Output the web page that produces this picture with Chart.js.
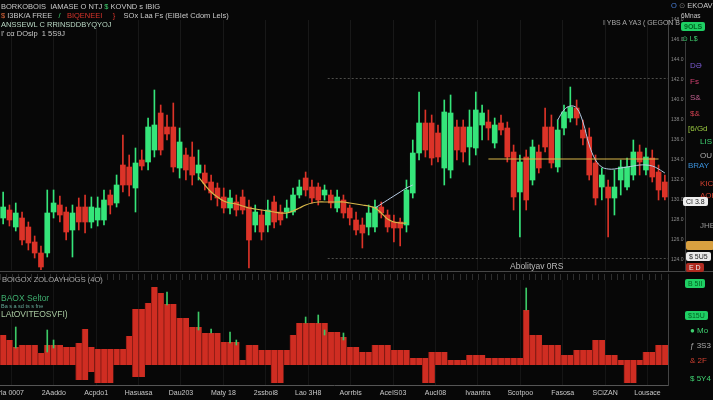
<!DOCTYPE html>
<html><head><meta charset="utf-8">
<script src="https://cdn.jsdelivr.net/npm/chart.js@4"></script>
<style>
html,body{margin:0;padding:0;background:#070707;width:713px;height:400px;overflow:hidden;font-family:"Liberation Sans","DejaVu Sans",sans-serif;}
#wrap{position:relative;width:713px;height:400px;}
canvas{position:absolute;left:0}
#c1{top:0}
#c2{top:272px}
.t{position:absolute;white-space:nowrap;font-size:7.5px;color:#c9c9c9;line-height:1}
.hl{position:absolute;background:#474747;height:1px}
.vl{position:absolute;background:#3a3a3a;width:1px}
.box{position:absolute;font-size:7px;line-height:1;padding:1px 3px;border-radius:2px;white-space:nowrap}
</style></head>
<body><div id="wrap">
<canvas id="c1" width="713" height="272"></canvas>
<canvas id="c2" width="713" height="128"></canvas>

<div class="hl" style="left:0;top:271px;width:713px"></div>
<div class="vl" style="left:685px;top:42px;height:230px"></div>

<div class="t" style="left:1px;top:3px">BORKOBOIS &nbsp;IAMASE O NTJ <span style="color:#3fd070">$</span> KOVND s IBIG</div>
<div class="t" style="left:1px;top:12px"><span style="color:#e0663a">$</span> I3BK/A FREE &nbsp;&nbsp;<span style="color:#3fd070">/</span> &nbsp;&nbsp;<span style="color:#d8342b">BIQENEEI</span> &nbsp;&nbsp;&nbsp;&nbsp;<span style="color:#d8342b">}</span> &nbsp;&nbsp;&nbsp;SOx Laa Fs (EIBIet Cdom Lels)</div>
<div class="t" style="left:1px;top:21px;color:#b9d8c4">ANSSEWL C RRINSDDBYQYOJ</div>
<div class="t" style="left:1px;top:30px">I' cα DOslp &nbsp;1 5S9J</div>

<div class="t" style="left:603px;top:19px;font-size:7px;color:#aaa">I YBS A YA3 ( GEGON B</div>
<div class="t" style="left:671px;top:2px;font-size:7.5px"><span style="color:#4a7fd8">O</span> <span style="color:#777">⊙</span> EKOAV</div>
<div class="t" style="left:681px;top:13px;font-size:6.5px">6Mnas</div>
<div class="box" style="left:681px;top:22px;background:#1fcf64;color:#062;font-weight:bold">9OLS</div>
<div class="t" style="left:682px;top:35px;font-size:7px;color:#3fd070">⊙ L$</div>

<div class="t" style="left:690px;top:62px;font-size:8px;color:#7a5ad0">DƏ</div>
<div class="t" style="left:690px;top:78px;font-size:8px;color:#d04070">Fs</div>
<div class="t" style="left:690px;top:94px;font-size:8px;color:#c06090">S&amp;</div>
<div class="t" style="left:690px;top:110px;font-size:8px;color:#d04050">$&amp;</div>
<div class="t" style="left:688px;top:125px;font-size:8px;color:#9ac840">[6/Gd</div>
<div class="t" style="left:700px;top:138px;font-size:8px;color:#3fd070">LIS</div>
<div class="t" style="left:700px;top:152px;font-size:8px;color:#aaa">OU</div>
<div class="t" style="left:688px;top:162px;font-size:8px;color:#3a8fd8">BRAY</div>
<div class="t" style="left:700px;top:180px;font-size:8px;color:#d04030">KICL</div>
<div class="t" style="left:700px;top:192px;font-size:8px;color:#d04030">AOHA</div>
<div class="t" style="left:700px;top:222px;font-size:8px;color:#999">JHEB</div>
<div class="box" style="left:686px;top:241px;background:#d8a040;color:#222;width:22px">&nbsp;</div>
<div class="box" style="left:686px;top:252px;background:#e8e8e8;color:#222">$ 5U5</div>
<div class="box" style="left:686px;top:263px;background:#b02a20;color:#eee">E D</div>
<div class="box" style="left:683px;top:197px;background:#eee;color:#222;font-size:7px">CI 3.8</div>

<div class="box" style="left:685px;top:279px;background:#1fcf64;color:#062">B 5II</div>
<div class="box" style="left:685px;top:311px;background:#1fcf64;color:#062">$15U</div>
<div class="t" style="left:690px;top:327px;font-size:8px;color:#3fd070">● Mo</div>
<div class="t" style="left:690px;top:342px;font-size:8px;color:#aaa">ƒ 3S3</div>
<div class="t" style="left:690px;top:357px;font-size:8px;color:#d04030">&amp; 2F</div>
<div class="t" style="left:690px;top:375px;font-size:8px;color:#3fd070">$ 5Y4</div>

<div class="t" style="left:2px;top:276px;font-size:7.5px;color:#aaa">BOIGOX ZOLOAYHOGS (4O)</div>
<div class="t" style="left:1px;top:294px;font-size:8.5px;color:#3fb070">BAOX Seltor</div>
<div class="t" style="left:1px;top:304px;font-size:5.5px;color:#6a9">Ba s a sd ts s fne</div>
<div class="t" style="left:1px;top:310px;font-size:8.5px;color:#a8c8a0">LAtOVITEOSVFI)</div>
<div class="t" style="left:510px;top:262px;font-size:8.5px;color:#bbb">Abolityav 0RS</div>
</div>
<script>
// ---- price series (OHLC) ----
const open  = [128.2,129.0,127.3,128.2,127.3,125.8,124.7,124.7,128.8,129.5,128.8,127.0,129.3,129.3,127.8,128.0,128.0,130.5,129.7,133.5,133.3,131.2,134.0,133.8,135.0,138.7,137.3,137.3,133.2,134.5,134.3,132.7,132.7,131.8,131.2,130.3,129.2,129.8,130.3,129.3,127.5,128.5,127.5,129.8,128.8,128.8,128.8,130.5,132.2,131.3,131.3,130.5,130.5,129.2,130.0,129.2,128.0,127.5,127.3,127.3,129.3,128.5,127.8,127.8,127.5,130.7,134.7,137.7,137.7,136.7,133.2,133.0,137.3,137.3,135.3,135.2,137.5,137.8,135.7,137.7,137.2,134.8,130.8,134.3,132.0,134.8,137.3,137.3,133.3,137.2,138.2,139.2,137.0,136.3,133.7,131.3,131.3,130.2,132.0,131.3,132.5,134.8,133.0,134.2,132.8,131.8];
const high  = [130.8,129.5,129.7,128.8,127.8,126.4,125.4,131.0,131.0,130.4,129.3,129.5,130.2,130.5,130.3,130.3,131.0,131.0,132.5,136.5,134.5,135.2,135.0,138.2,141.0,139.5,138.5,139.7,137.2,135.2,135.8,135.0,133.5,132.5,131.7,131.2,131.0,130.5,131.0,130.0,129.5,129.0,130.0,130.4,129.5,130.0,131.2,132.0,132.8,132.0,131.7,131.5,131.0,131.0,130.5,129.5,128.8,128.2,129.5,130.0,129.8,129.0,128.5,128.2,132.0,136.0,140.8,139.0,138.5,137.5,140.0,140.5,138.0,138.0,139.0,140.8,139.5,139.0,138.2,138.5,137.8,135.5,134.5,135.0,136.0,135.5,139.2,138.5,138.0,139.5,141.3,140.0,138.0,137.2,134.5,133.2,132.0,133.0,134.0,134.2,136.0,135.5,135.2,135.0,133.5,132.5];
const low   = [127.6,127.4,126.9,125.5,125.0,124.2,122.8,124.3,128.2,127.8,126.0,124.3,127.0,126.7,127.2,127.4,127.5,128.6,129.3,130.8,130.4,128.8,133.0,133.0,134.3,134.5,136.0,132.8,132.2,132.0,131.5,132.0,131.0,130.0,129.4,128.7,128.6,128.4,128.6,123.2,126.8,126.0,126.8,127.2,127.5,128.2,128.5,130.2,130.4,129.7,129.5,130.0,129.2,128.8,128.2,127.5,126.5,125.2,126.5,126.8,128.2,126.8,125.8,125.4,126.8,130.2,134.0,134.3,133.5,133.8,131.5,132.2,134.0,133.8,133.5,134.5,136.0,136.0,135.2,136.5,133.8,129.0,126.3,129.0,131.5,132.7,134.8,133.2,132.8,136.5,137.8,137.5,135.5,132.0,129.5,130.0,126.3,128.5,130.5,131.0,132.0,132.5,132.5,131.8,130.0,130.0];
const close = [129.3,128.0,128.7,126.0,125.7,124.7,123.3,128.7,129.7,128.5,126.8,128.7,127.8,127.8,129.3,129.2,130.0,129.5,131.5,131.5,131.5,133.7,133.4,137.3,137.5,135.0,136.6,133.3,135.8,133.0,132.5,133.5,131.7,130.7,130.2,129.2,130.2,129.0,129.0,126.0,128.8,126.8,129.0,127.8,128.0,129.2,130.5,131.3,131.0,130.2,130.0,131.0,129.7,130.3,128.7,128.2,127.0,126.7,128.7,129.3,128.7,127.3,127.2,127.2,131.0,134.7,137.7,135.0,134.2,134.3,138.8,138.7,135.0,134.8,137.3,139.0,138.7,137.2,137.5,137.0,134.3,130.3,133.8,130.0,135.3,133.2,135.3,133.7,137.0,138.8,139.3,138.2,136.2,132.5,130.2,132.5,130.2,131.3,133.3,133.3,134.8,133.8,134.3,132.3,131.0,130.3];
// moving averages (null = not drawn)
const maYellow = [null,null,null,null,null,null,null,null,null,null,null,null,null,null,null,null,null,null,null,null,null,null,null,null,null,null,null,null,null,null,null,132.3,131.5,130.8,130.3,129.9,129.7,129.6,129.4,129.2,129.1,129.0,128.9,128.8,128.7,128.7,128.9,129.2,129.5,129.7,129.8,129.8,129.8,129.8,129.8,129.7,129.6,129.5,129.4,129.2,128.7,128.1,127.8,127.7,127.7,null,null,null,null,null,null,null,null,null,null,null,null,134.1,134.1,134.1,134.1,134.1,134.1,134.1,134.1,134.1,134.1,134.1,134.1,134.1,134.1,134.1,134.1,134.1,134.1,134.1,134.1,134.1,134.1,134.1,134.1,134.1,134.1,134.1,134.1];
const maWhite  = [null,null,null,null,null,null,null,null,null,null,null,null,null,null,null,null,null,null,null,null,null,null,null,null,null,null,null,null,null,null,null,null,null,null,null,null,null,null,null,null,null,null,null,null,null,null,null,null,null,null,null,null,null,null,null,null,null,null,null,129.2,129.6,130.0,130.4,130.8,131.2,131.5,null,null,null,null,null,null,null,null,null,null,null,null,null,null,null,null,null,null,null,null,null,null,138.0,139.0,139.4,139.2,137.8,135.5,134.0,133.3,133.1,133.1,133.2,133.3,133.4,133.5,133.5,133.4,133.1,132.7];
// ---- lower pane: volume histogram (floating) ----
const volHigh = [50,45,38,40,40,40,32,40,40,40,38,38,42,56,38,36,36,36,36,36,49,76,76,82,98,92,81,81,67,67,58,58,52,52,52,43,43,43,25,40,40,35,35,35,35,35,50,62,62,62,62,62,53,53,48,38,38,33,33,40,40,40,35,35,35,27,27,27,33,33,33,25,25,25,30,30,30,27,27,27,27,27,27,75,50,50,40,40,40,30,30,35,35,35,45,45,30,30,25,25,25,25,33,33,40,40];
const volLow  = [20,20,20,20,20,20,20,20,20,20,20,20,5,5,13,2,2,2,20,20,20,8,8,20,20,20,20,20,20,20,20,20,20,20,20,20,20,20,20,20,20,20,20,2,2,20,20,20,20,20,20,20,20,20,20,20,20,20,20,20,20,20,20,20,20,20,20,2,2,20,20,20,20,20,20,20,20,20,20,20,20,20,20,20,20,20,20,20,20,20,20,20,20,20,20,20,20,20,20,2,2,20,20,20,20,20];
const sigLow  = {2:37,7:33,8:37,26:80,31:55,33:52,36:42,37:40,48:62,50:62,51:50,54:45,83:75};
const sigHigh = {2:58,7:55,8:45,26:93,31:73,33:56,36:53,37:45,48:68,50:70,51:55,54:52,83:97};
// ---- axis labels ----
const categories = open.map((_, i) => 'B' + (i + 1));
const xTickLabels = ['rla 0007','2Aaddo','Acpdo1','Hasuasa','Dau203','Maty 18','2ssboi8','Lao 3H8','Aorrbis','AceIS03','Aucl08','Ivaantra','Scotpoo','Fasosa','SCiZAN','Lousace'];
const refLevels = [{value:142.2, from:51.5}, {value:124.2, from:51.5}];

const GREEN = '#35e57a', RED = '#dc3328';
const candleColors = open.map((o, i) => close[i] >= o ? GREEN : RED);
const bodies = open.map((o, i) => [o, close[i]]);
const wicks = low.map((l, i) => [l, high[i]]);
const vol = volLow.map((l, i) => [l, volHigh[i]]);
const volSig = categories.map((_, i) => sigLow[i] !== undefined ? [sigLow[i], sigHigh[i]] : null);

const tickStep = 6.73, firstTick = 1.3;
const labelTicks = () => xTickLabels.map((_, k) => ({value: firstTick + k * tickStep}));
const noPad = s => { s.paddingLeft = 0; s.paddingRight = 0; s.paddingTop = 0; s.paddingBottom = 0; };

const refLinePlugin = {
  id: 'refLines',
  beforeDatasetsDraw(chart) {
    const {ctx, chartArea, scales} = chart;
    ctx.save();
    ctx.setLineDash([2, 2]);
    ctx.strokeStyle = 'rgba(210,210,200,0.35)';
    ctx.lineWidth = 1;
    refLevels.forEach(r => {
      const py = Math.round(scales.y.getPixelForValue(r.value)) + 0.5;
      ctx.beginPath();
      ctx.moveTo(scales.xl.getPixelForValue(r.from), py);
      ctx.lineTo(chartArea.right, py);
      ctx.stroke();
    });
    ctx.restore();
  }
};

Chart.defaults.font.family = '"Liberation Sans","DejaVu Sans",sans-serif';

new Chart(document.getElementById('c1'), {
  type: 'bar',
  data: {
    labels: categories,
    datasets: [
      {type:'line', label:'MA A', data: maYellow, borderColor:'#d9b84a', borderWidth:1.2, pointRadius:0, tension:0.4, order:0},
      {type:'line', label:'MA B', data: maWhite, borderColor:'#b8cde6', borderWidth:1, pointRadius:0, tension:0.4, order:0},
      {label:'body', data: bodies, backgroundColor: candleColors, barThickness:5, grouped:false, minBarLength:1, order:1},
      {label:'wick', data: wicks, backgroundColor: candleColors, barThickness:1, grouped:false, order:2}
    ]
  },
  options: {
    responsive:false, animation:false, devicePixelRatio:1,
    layout:{padding:{top:20, bottom:2, left:0, right:0}},
    plugins:{legend:{display:false}, tooltip:{enabled:false}},
    scales:{
      x:{display:false, offset:true},
      xl:{type:'linear', position:'bottom', min:-0.5, max:105.5, offset:false,
          afterBuildTicks:s=>{s.ticks = labelTicks();},
          ticks:{display:false}, grid:{color:'rgba(255,255,255,0.07)', drawTicks:false, offset:false}, border:{display:false},
          afterFit:s=>{s.height = 0; noPad(s);}},
      y:{position:'right', min:123, max:148,
         afterBuildTicks:s=>{s.ticks = s.ticks.filter(t => t.value % 2 === 0);},
         ticks:{stepSize:2, font:{size:5}, color:'#8a8a8a', padding:3, callback:v=>v.toFixed(1)},
         grid:{display:false, drawTicks:false}, border:{color:'#444'},
         afterFit:s=>{s.width = 45; noPad(s);}}
    }
  },
  plugins:[refLinePlugin]
});

new Chart(document.getElementById('c2'), {
  type: 'bar',
  data: {
    labels: categories,
    datasets: [
      {label:'signal', data: volSig, backgroundColor:'#3cc866', barThickness:1, grouped:false, order:0},
      {label:'volume', data: vol, backgroundColor:'#cf2d22', borderColor:'#8e1c15', borderWidth:{left:1, right:0, top:0, bottom:0}, borderSkipped:false, barPercentage:1, categoryPercentage:1, grouped:false, order:1}
    ]
  },
  options: {
    responsive:false, animation:false, devicePixelRatio:1,
    layout:{padding:{top:2, bottom:0, left:0, right:0}},
    plugins:{legend:{display:false}, tooltip:{enabled:false}},
    scales:{
      x:{position:'top', offset:true, ticks:{display:false},
         grid:{drawOnChartArea:false, drawTicks:true, tickLength:6, color:'#2e2e2e'}, border:{display:false},
         afterFit:s=>{s.height = 6; noPad(s);}},
      xl:{type:'linear', position:'bottom', min:-0.5, max:105.5, offset:false,
          afterBuildTicks:s=>{s.ticks = labelTicks();},
          ticks:{callback:(v, i)=>xTickLabels[i], font:{size:7}, color:'#c8c8c8', padding:4, maxRotation:0, autoSkip:false},
          grid:{color:'rgba(255,255,255,0.06)', drawTicks:false, offset:false}, border:{color:'#555'},
          afterFit:s=>{s.height = 15; noPad(s);}},
      y:{position:'right', min:0, max:105, ticks:{display:false}, grid:{display:false, drawTicks:false}, border:{color:'#444'},
         afterFit:s=>{s.width = 45; noPad(s);}}
    }
  }
});
</script>
</body></html>
